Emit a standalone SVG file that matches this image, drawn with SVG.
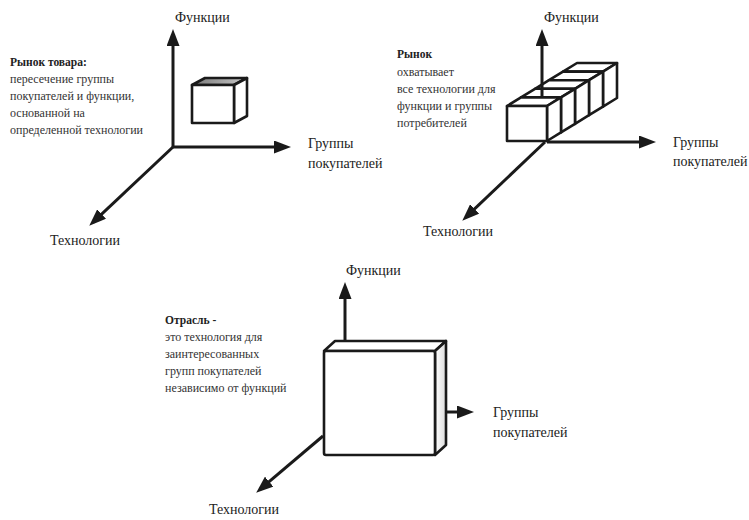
<svg xmlns="http://www.w3.org/2000/svg" width="749" height="520" viewBox="0 0 749 520">
  <defs>
    <marker id="ah" markerUnits="userSpaceOnUse" markerWidth="17" markerHeight="13" refX="12" refY="6.5" orient="auto">
      <path d="M0,0 L17,6.5 L0,13 Z" fill="#1a1a1a"/>
    </marker>
    <linearGradient id="topGrey" x1="0" y1="0" x2="1" y2="0">
      <stop offset="0" stop-color="#7a7a7a"/>
      <stop offset="1" stop-color="#c8c8c8"/>
    </linearGradient>
    <linearGradient id="sideGrey" x1="0" y1="0" x2="1" y2="0">
      <stop offset="0" stop-color="#ffffff"/>
      <stop offset="1" stop-color="#dcdcdc"/>
    </linearGradient>
  </defs>

  <g stroke="#1a1a1a" stroke-width="2.6" stroke-linejoin="round">
  <!-- Diagram 1: product market -->
  <g id="cube1">
    <polygon points="192,85 205,78 247,78 234,85" fill="url(#topGrey)"/>
    <polygon points="234,85 247,78 247,116 234,123" fill="#fff"/>
    <rect x="192" y="85" width="42" height="38" fill="#fff"/>
  </g>
  <!-- Diagram 2: market -->
  <g id="cube-row">
    <g id="c2-5">
      <polygon points="563,71.6 577,63 617,63 603,71.6" fill="#fff"/>
      <polygon points="603,71.6 617,63 617,98 603,106.6" fill="#fff"/>
    </g>
    <g id="c2-4">
      <polygon points="549,80.2 563,71.6 603,71.6 589,80.2" fill="#fff"/>
      <polygon points="589,80.2 603,71.6 603,106.6 589,115.2" fill="#fff"/>
    </g>
    <g id="c2-3">
      <polygon points="535,88.8 549,80.2 589,80.2 575,88.8" fill="#fff"/>
      <polygon points="575,88.8 589,80.2 589,115.2 575,123.8" fill="#fff"/>
    </g>
    <g id="c2-2">
      <polygon points="521,97.4 535,88.8 575,88.8 561,97.4" fill="#fff"/>
      <polygon points="561,97.4 575,88.8 575,123.8 561,132.4" fill="#fff"/>
    </g>
    <g id="c2-1">
      <polygon points="507,106 521,97.4 561,97.4 547,106" fill="#fff"/>
      <polygon points="547,106 561,97.4 561,132.4 547,141" fill="#fff"/>
      <rect x="507" y="106" width="40" height="35" fill="#fff"/>
    </g>
  </g>
  <!-- Diagram 3: industry -->
  <g id="cube3">
    <polygon points="324,351 335,341 446,341 435,351" fill="#fff"/>
    <polygon points="435,351 446,341 446,445 435,455" fill="url(#sideGrey)"/>
    <rect x="324" y="351" width="111" height="104" rx="2" fill="#fff"/>
  </g>
  </g>

  <g font-family="serif" font-size="12" fill="#333">
  <g id="text1">
    <text x="10" y="66" font-size="11.5" font-weight="bold" fill="#222">Рынок товара:</text>
    <text x="10" y="83">пересечение группы</text>
    <text x="10" y="100">покупателей и функции,</text>
    <text x="10" y="117">основанной на</text>
    <text x="10" y="134">определенной технологии</text>
  </g>
  <g id="text2">
    <text x="397" y="58" font-size="11.5" font-weight="bold" fill="#222">Рынок</text>
    <text x="397" y="76">охватывает</text>
    <text x="397" y="93">все технологии для</text>
    <text x="397" y="110">функции и группы</text>
    <text x="397" y="127">потребителей</text>
  </g>
  <g id="text3">
    <text x="165" y="324" font-size="11.5" font-weight="bold" fill="#222">Отрасль -</text>
    <text x="165" y="341">это технология для</text>
    <text x="165" y="358">заинтересованных</text>
    <text x="165" y="375">групп покупателей</text>
    <text x="165" y="392">независимо от функций</text>
  </g>
  </g>

  <g font-family="serif" font-size="14" fill="#222">
  <g id="labels1">
    <text x="175" y="22">Функции</text>
    <text x="308" y="148">Группы</text>
    <text x="308" y="168">покупателей</text>
    <text x="50" y="245">Технологии</text>
  </g>
  <g id="labels2">
    <text x="544" y="22">Функции</text>
    <text x="673" y="147">Группы</text>
    <text x="673" y="166">покупателей</text>
    <text x="423" y="236">Технологии</text>
  </g>
  <g id="labels3">
    <text x="346" y="275">Функции</text>
    <text x="493" y="417">Группы</text>
    <text x="493" y="437">покупателей</text>
    <text x="209" y="514">Технологии</text>
  </g>
  </g>

  <g id="connectors" stroke="#1a1a1a" stroke-width="3" fill="none" marker-end="url(#ah)">
    <line x1="173" y1="148" x2="173" y2="34"/>
    <line x1="172" y1="147" x2="286" y2="147"/>
    <line x1="173" y1="147" x2="92.9" y2="222.3"/>

    <line x1="542" y1="98" x2="542" y2="34"/>
    <line x1="547" y1="142" x2="651" y2="142"/>
    <line x1="545" y1="142" x2="465.9" y2="217.2"/>

    <line x1="345" y1="340" x2="345" y2="287"/>
    <line x1="446" y1="412" x2="469" y2="412"/>
    <line x1="323" y1="436" x2="260" y2="489.4"/>
  </g>
</svg>
